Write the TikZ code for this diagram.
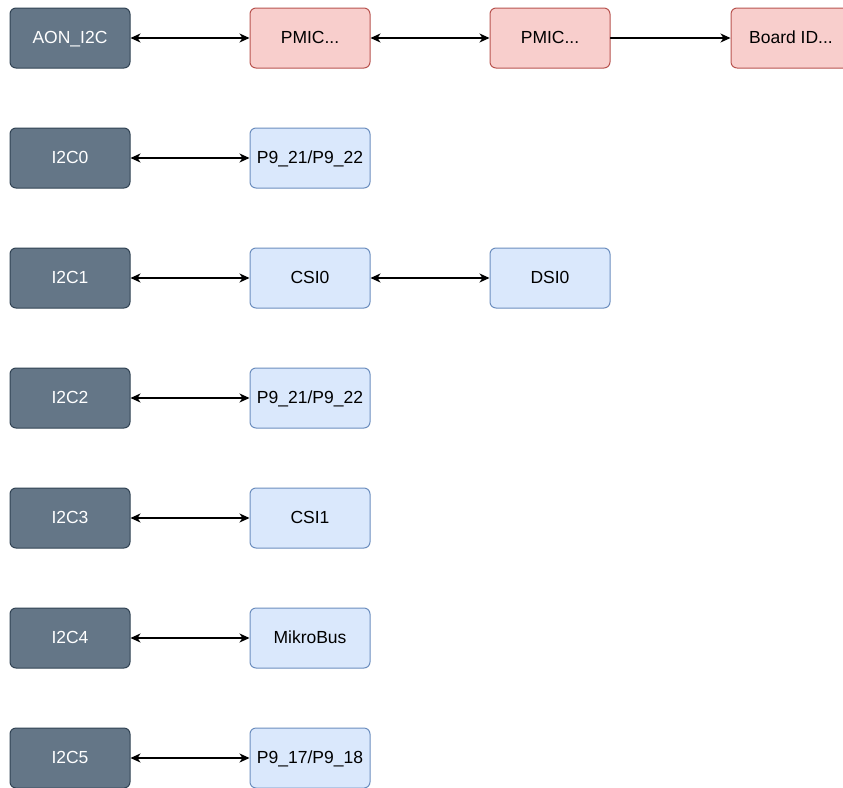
\documentclass[tikz,border=0pt]{standalone}
\usepackage{fontspec}
\setmainfont{Liberation Sans}
\usepackage{tikz}
\usetikzlibrary{arrows.meta}
\definecolor{busfill}{HTML}{647687}
\definecolor{busline}{HTML}{314354}
\definecolor{pmicfill}{HTML}{F8CECC}
\definecolor{pmicline}{HTML}{B85450}
\definecolor{devfill}{HTML}{DAE8FC}
\definecolor{devline}{HTML}{6C8EBF}
\tikzset{
  box/.style={rounded corners=6pt,minimum width=120pt,minimum height=60pt,inner sep=0pt,line width=1pt,text height=12.5pt,text depth=1pt,font=\fontsize{17.5}{20}\selectfont},
  busbox/.style={box,draw=busline,fill=busfill,text=white},
  pmicbox/.style={box,draw=pmicline,fill=pmicfill},
  devbox/.style={box,draw=devline,fill=devfill},
  link/.style={line width=1.2pt,{Stealth[length=10pt,width=9pt,inset=3pt]}-{Stealth[length=10pt,width=9pt,inset=3pt]}},
  onelink/.style={line width=1.2pt,-{Stealth[length=10pt,width=9pt,inset=3pt]}}
}
\begin{document}
\begin{tikzpicture}[line cap=round,line join=round,x=1pt,y=-1pt]
\useasboundingbox (0,0) rectangle (843,787);
\clip (0,0) rectangle (843,787);
\node[busbox] (aon) at (70,38) {AON\_I2C};
\node[pmicbox] (pmica) at (310,38) {PMIC...};
\node[pmicbox] (pmicb) at (550,38) {PMIC...};
\node[pmicbox] (board) at (791,38) {Board ID...};
\node[busbox] (i2c0) at (70,158) {I2C0};
\node[devbox] (hdra) at (310,158) {P9\_21/P9\_22};
\node[busbox] (i2c1) at (70,278) {I2C1};
\node[devbox] (csi0) at (310,278) {CSI0};
\node[devbox] (dsi0) at (550,278) {DSI0};
\node[busbox] (i2c2) at (70,398) {I2C2};
\node[devbox] (hdrb) at (310,398) {P9\_21/P9\_22};
\node[busbox] (i2c3) at (70,518) {I2C3};
\node[devbox] (csi1) at (310,518) {CSI1};
\node[busbox] (i2c4) at (70,638) {I2C4};
\node[devbox] (mikro) at (310,638) {MikroBus};
\node[busbox] (i2c5) at (70,758) {I2C5};
\node[devbox] (hdrc) at (310,758) {P9\_17/P9\_18};
\draw[link] (aon) -- (pmica);
\draw[link] (pmica) -- (pmicb);
\draw[onelink] (pmicb) -- (board);
\draw[link] (i2c0) -- (hdra);
\draw[link] (i2c1) -- (csi0);
\draw[link] (csi0) -- (dsi0);
\draw[link] (i2c2) -- (hdrb);
\draw[link] (i2c3) -- (csi1);
\draw[link] (i2c4) -- (mikro);
\draw[link] (i2c5) -- (hdrc);
\end{tikzpicture}
\end{document}
